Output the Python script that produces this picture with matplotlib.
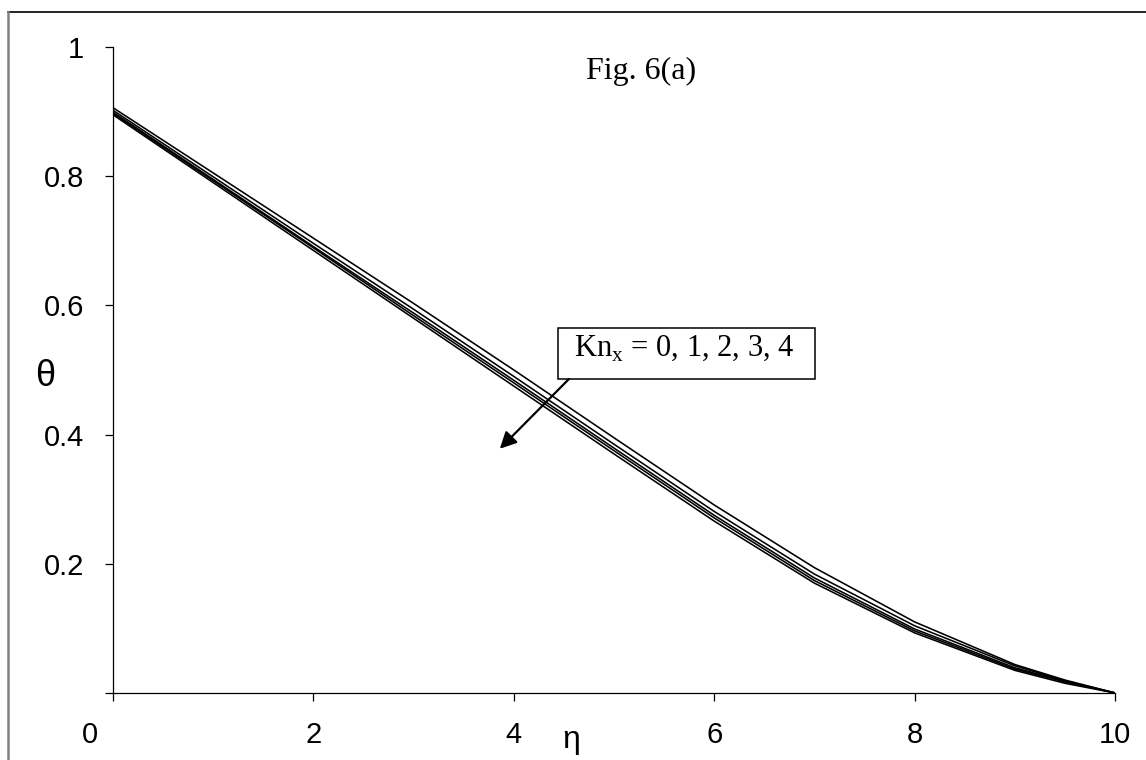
import matplotlib
matplotlib.use('Agg')
import matplotlib.pyplot as plt
from matplotlib.patches import Rectangle
from matplotlib.lines import Line2D

## data (theta against eta for Kn_x = 0..4)
eta = [0, 1, 2, 3, 4, 5, 6, 7, 8, 9, 9.5, 10]
theta_kn0 = [0.906, 0.805, 0.704, 0.603, 0.500, 0.395, 0.291, 0.194, 0.110, 0.044, 0.020, 0.0]
theta_kn1 = [0.902, 0.799, 0.696, 0.594, 0.490, 0.385, 0.281, 0.184, 0.104, 0.042, 0.019, 0.0]
theta_kn2 = [0.899, 0.795, 0.691, 0.588, 0.484, 0.379, 0.275, 0.178, 0.099, 0.039, 0.018, 0.0]
theta_kn3 = [0.897, 0.793, 0.689, 0.584, 0.480, 0.375, 0.271, 0.174, 0.096, 0.037, 0.017, 0.0]
theta_kn4 = [0.895, 0.790, 0.685, 0.580, 0.475, 0.370, 0.266, 0.170, 0.093, 0.035, 0.015, 0.0]
curves = [theta_kn0, theta_kn1, theta_kn2, theta_kn3, theta_kn4]

x_ticks = [0, 2, 4, 6, 8, 10]
x_ticklabels = ['', '2', '4', '6', '8', '10']
y_ticks = [0, 0.2, 0.4, 0.6, 0.8, 1.0]
y_ticklabels = ['', '0.2', '0.4', '0.6', '0.8', '1']

plt.rcParams['mathtext.fontset'] = 'custom'
plt.rcParams['mathtext.rm'] = 'Liberation Serif'

fig = plt.figure(figsize=(11.46, 7.6), dpi=100)
ax = fig.add_axes([0.0986, 0.0882, 0.8744, 0.8500])

## the five temperature profiles
for th in curves:
    ax.plot(eta, th, color='black', lw=1.15)

ax.set_xlim(0, 10)
ax.set_ylim(0, 1)
ax.spines['top'].set_visible(False)
ax.spines['right'].set_visible(False)
for s in ['left', 'bottom']:
    ax.spines[s].set_linewidth(0.9)

ax.set_xticks(x_ticks)
ax.set_xticklabels(x_ticklabels)
ax.set_yticks(y_ticks)
ax.set_yticklabels(y_ticklabels)
ax.tick_params(axis='both', direction='out', length=6, width=0.9,
               labelsize=21, labelfontfamily='Liberation Sans')
ax.tick_params(axis='x', pad=14)
ax.tick_params(axis='y', pad=15)

## the "0" on the x axis sits left of the origin, excel style
ax.text(-0.23, -0.043, '0', transform=ax.get_xaxis_transform(),
        ha='center', va='top', fontsize=21, family='Liberation Sans')

## axis labels
ax.text(-0.68, 0.49, '\u03b8', transform=ax.get_xaxis_transform(),
        ha='center', va='center', fontsize=26, family='Liberation Sans')
ax.text(4.57, -0.05, '\u03b7', transform=ax.get_xaxis_transform(),
        ha='center', va='top', fontsize=23, family='Liberation Sans')

## figure title inside the plot
ax.text(5.27, 0.962, 'Fig. 6(a)', ha='center', va='center',
        fontsize=23, family='Liberation Serif')

## the label box and arrow
box = Rectangle((4.44, 0.486), 2.566, 0.079, fill=False, edgecolor='black',
                lw=1.1, clip_on=False, zorder=3)
ax.add_patch(box)
ax.text(5.70, 0.534, r'Kn$_{\mathrm{x}}$ = 0, 1, 2, 3, 4', ha='center', va='center',
        fontsize=22, family='Liberation Serif', zorder=4)
ax.annotate('', xy=(3.86, 0.378), xytext=(4.55, 0.486),
            arrowprops=dict(arrowstyle='-|>', color='black', lw=1.6,
                            mutation_scale=25, shrinkA=0, shrinkB=0))

## outer border of the chart area
fig.add_artist(Line2D([8 / 1146, 1.0], [1 - 12 / 760, 1 - 12 / 760],
                      transform=fig.transFigure, color='black', lw=1.2))
fig.add_artist(Line2D([8 / 1146, 8 / 1146], [0.0, 1 - 12 / 760],
                      transform=fig.transFigure, color='#808080', lw=1.8))

fig.savefig('out.png', dpi=100)
